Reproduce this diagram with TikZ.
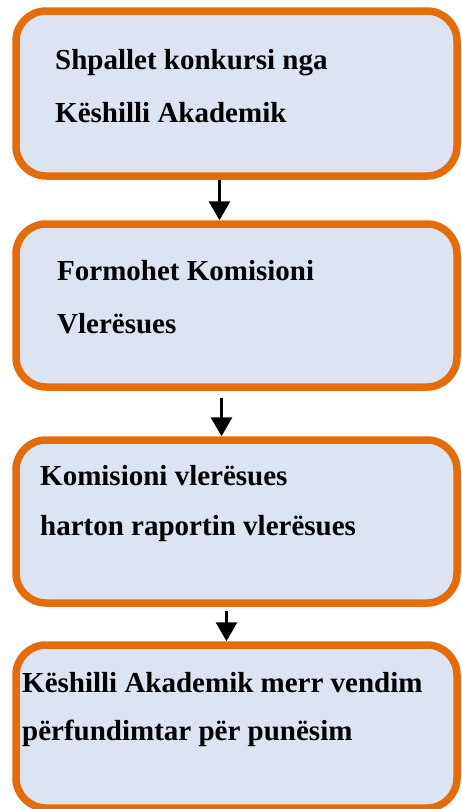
\documentclass[tikz,border=0pt]{standalone}
\usepackage{fontspec}
\setmainfont{Liberation Serif}
\usepackage{tikz}
\usetikzlibrary{arrows.meta,positioning}
\usepackage{xcolor}
\definecolor{fsOrange}{HTML}{E46C0A}
\definecolor{fsFill}{HTML}{DCE3F1}
\definecolor{fsInk}{HTML}{000000}
\tikzset{
  stage/.style={draw=fsOrange, fill=fsFill, line width=7.5pt, rounded corners=30pt, minimum width=441pt, inner sep=0pt},
  lbl/.style={font=\bfseries\fontsize{29}{#1}\selectfont, text=fsInk, align=left, anchor=base west, inner sep=0pt},
  lbl/.default=52,
  arr/.style={-{Triangle[length=19pt, width=21pt]}, line width=3pt, draw=fsInk},
}
\begin{document}
\begin{tikzpicture}[x=1pt, y=-1pt]
  \useasboundingbox (0,0) rectangle (461,809);
  % boxes
  \node[stage, minimum height=165pt] (s1) at (236.5,93.5) {};
  \node[stage, minimum height=163pt] (s2) at (236.5,305.5) {};
  \node[stage, minimum height=163pt] (s3) at (236.5,521.5) {};
  \node[stage, minimum height=163pt] (s4) at (236.5,726.5) {};
  % texts (base = last line)
  \node[lbl=53] (t1) at (55,122) {Shpallet konkursi nga\\Këshilli Akademik};
  \node[lbl=53] (t2) at (57,333) {Formohet Komisioni\\Vlerësues};
  \node[lbl=50] (t3) at (40,535) {Komisioni vlerësues\\harton raportin vlerësues};
  \node[lbl=48] (t4) at (22,740) {Këshilli Akademik merr vendim\\përfundimtar për punësim};
  % arrows
  \draw[arr] ([xshift=-17pt]s1.south) -- ([xshift=-17pt]s2.north);
  \draw[arr] ([xshift=-15pt,yshift=-7pt]s2.south) -- ([xshift=-15pt]s3.north);
  \draw[arr] ([xshift=-10pt,yshift=-4pt]s3.south) -- ([xshift=-10pt]s4.north);
\end{tikzpicture}
\end{document}
